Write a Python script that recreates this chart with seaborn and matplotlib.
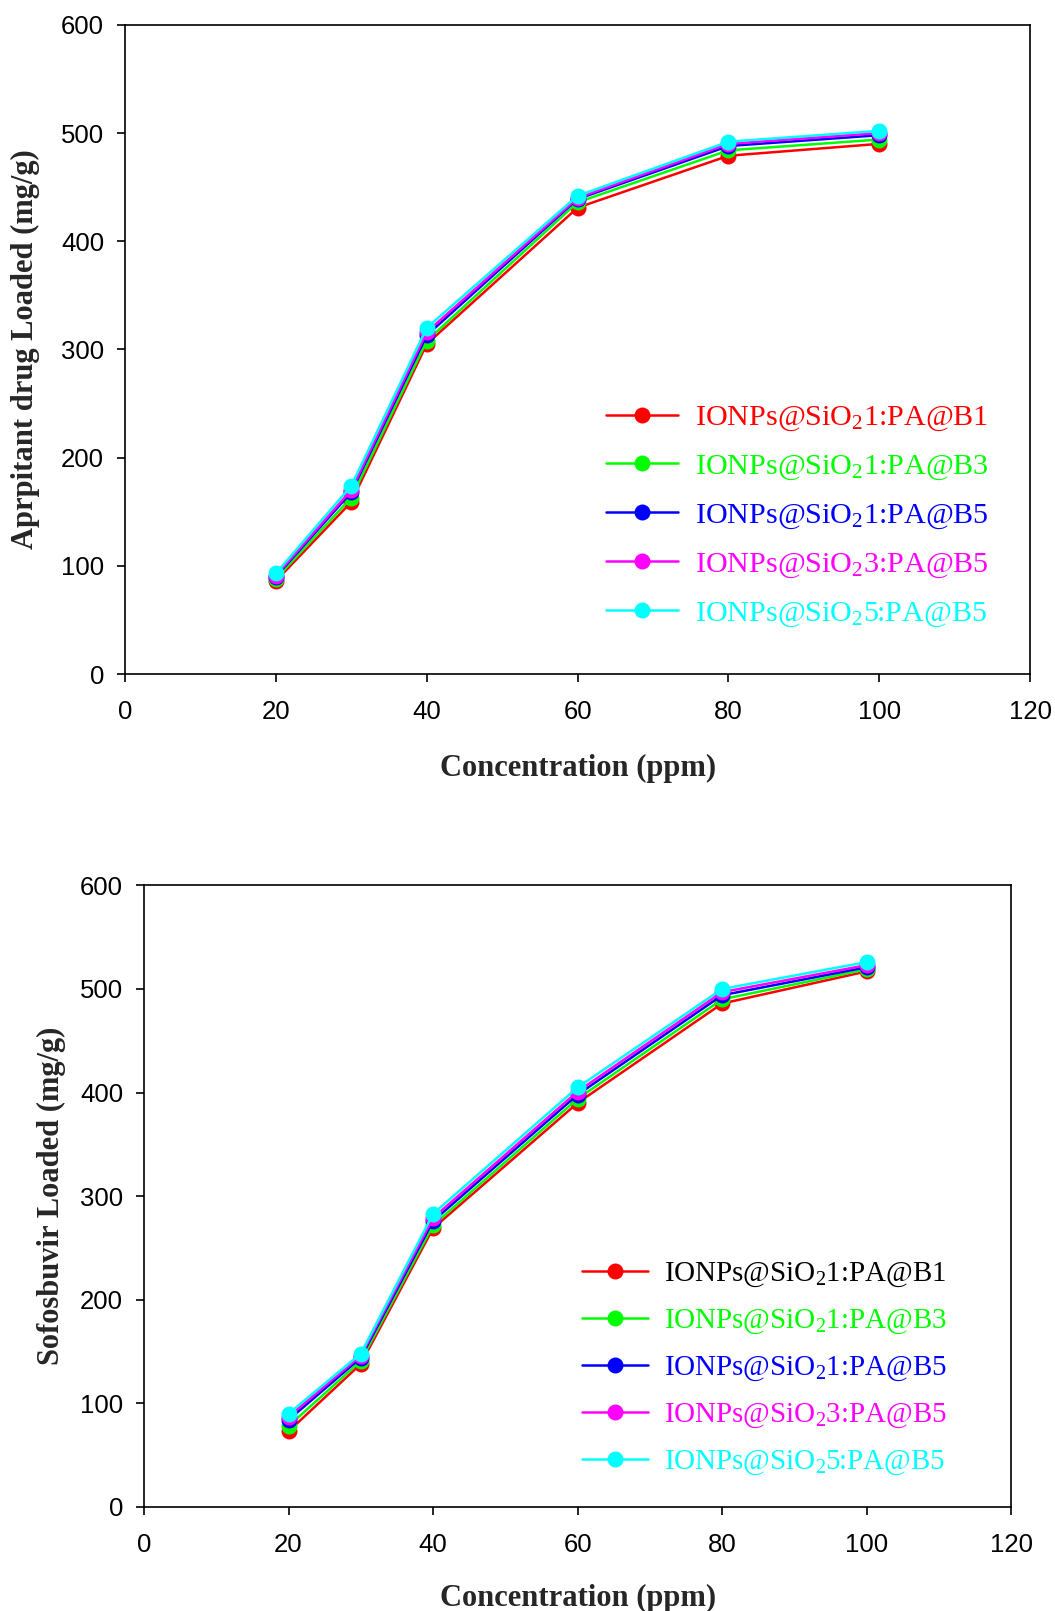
import matplotlib
matplotlib.use("Agg")
import matplotlib.pyplot as plt
import seaborn as sns
import pandas as pd

sns.set_theme(style="ticks")
plt.rcParams['font.family'] = ['Liberation Sans', 'DejaVu Sans']
plt.rcParams['mathtext.fontset'] = 'custom'
plt.rcParams['mathtext.rm'] = 'Liberation Serif'
plt.rcParams['mathtext.it'] = 'Liberation Serif:italic'
plt.rcParams['mathtext.bf'] = 'Liberation Serif:bold'

conc = [20, 30, 40, 60, 80, 100]
series_names = ["IONPs@SiO$_2$1:PA@B1", "IONPs@SiO$_2$1:PA@B3", "IONPs@SiO$_2$1:PA@B5",
                "IONPs@SiO$_2$3:PA@B5", "IONPs@SiO$_2$5:PA@B5"]
colors = ["#ff0000", "#00ff00", "#0000ff", "#ff00ff", "#00ffff"]

aprepitant_b1_1 = [86, 159, 305, 431, 479, 490]
aprepitant_b3_1 = [88, 163, 308, 436, 484, 494]
aprepitant_b5_1 = [90, 168, 313, 439, 488, 498]
aprepitant_b5_3 = [91, 170, 316, 440, 490, 500]
aprepitant_b5_5 = [93, 174, 320, 442, 492, 502]

sofosbuvir_b1_1 = [73, 138, 269, 390, 486, 517]
sofosbuvir_b3_1 = [78, 141, 272, 394, 490, 519]
sofosbuvir_b5_1 = [84, 144, 276, 398, 494, 521]
sofosbuvir_b5_3 = [87, 146, 279, 401, 497, 523]
sofosbuvir_b5_5 = [90, 148, 283, 405, 500, 526]

x_ticks = [0, 20, 40, 60, 80, 100, 120]
y_ticks = [0, 100, 200, 300, 400, 500, 600]

top_series = [aprepitant_b1_1, aprepitant_b3_1, aprepitant_b5_1, aprepitant_b5_3, aprepitant_b5_5]
bot_series = [sofosbuvir_b1_1, sofosbuvir_b3_1, sofosbuvir_b5_1, sofosbuvir_b5_3, sofosbuvir_b5_5]

def make_df(series):
    rows = []
    for name, vals in zip(series_names, series):
        for c, v in zip(conc, vals):
            rows.append({"Concentration": c, "Value": v, "Series": name})
    return pd.DataFrame(rows)

fig = plt.figure(figsize=(10.55, 16.11), dpi=100)
ax1 = fig.add_axes([0.1185, 0.5816, 0.858, 0.403])
ax2 = fig.add_axes([0.1365, 0.0646, 0.822, 0.3858])

palette = dict(zip(series_names, colors))

def draw(ax, series, ylabel, leg_anchor, leg_fs, label_colors, spacing, hl, xlpad, ylpad):
    df = make_df(series)
    sns.lineplot(data=df, x="Concentration", y="Value", hue="Series", hue_order=series_names,
                 palette=palette, marker="o", markersize=11.5, markeredgewidth=0,
                 linewidth=1.8, ax=ax, legend=False)
    ax.set_xlim(0, 120)
    ax.set_ylim(0, 600)
    ax.set_xticks(x_ticks)
    ax.set_yticks(y_ticks)
    ax.tick_params(axis='both', direction='out', length=6, width=1.2, labelsize=18.5,
                   pad=9, top=False, right=False, color='black', labelcolor='black')
    ax.tick_params(axis='x', pad=12.5)
    for s in ax.spines.values():
        s.set_color('black')
        s.set_linewidth(1.2)
    ax.set_xlabel("Concentration (ppm)", family='Liberation Serif', fontweight='bold',
                  fontsize=22, labelpad=xlpad)
    ax.set_ylabel(ylabel, family='Liberation Serif', fontweight='bold', fontsize=22, labelpad=ylpad)
    handles = ax.get_lines()[:len(series_names)]
    leg = ax.legend(handles, series_names, loc='center left', bbox_to_anchor=leg_anchor,
                    frameon=False, borderpad=0, borderaxespad=0,
                    handlelength=hl, handletextpad=0.55, labelspacing=spacing,
                    prop={'family': 'Liberation Serif', 'size': leg_fs})
    for t, c in zip(leg.get_texts(), label_colors):
        t.set_color(c)
    return leg

draw(ax1, top_series, "Aprpitant drug Loaded (mg/g)", (0.531, 0.243), 21.7, colors, 0.65, 2.4, 21.5, 15)
draw(ax2, bot_series, "Sofosbuvir Loaded (mg/g)", (0.5046, 0.222), 20.9,
     ["black"] + colors[1:], 0.64, 2.28, 20, 10)

fig.savefig("out.png", dpi=100)
